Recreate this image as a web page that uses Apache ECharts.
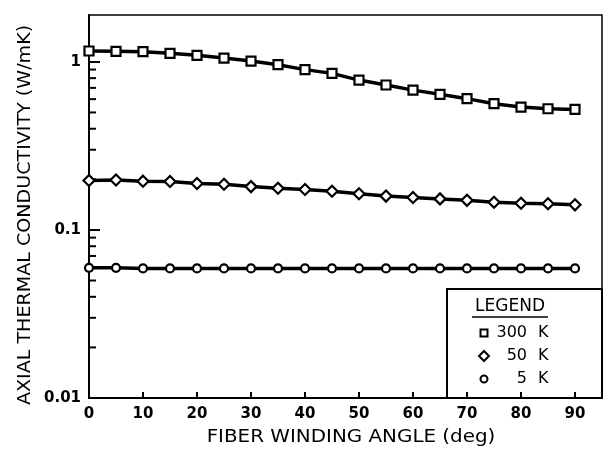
<!DOCTYPE html>
<html>
<head>
    <meta charset="utf-8">
    <script src="https://cdn.jsdelivr.net/npm/echarts@6/dist/echarts.min.js"></script>
    <style>
        html, body { margin: 0; padding: 0; background: #fff; }
        #main { width: 610px; height: 449px; }
    </style>
</head>
<body>
<div id="main"></div>
<script type="text/javascript">
    // fiber winding angle (deg)
    var angles = [0, 5, 10, 15, 20, 25, 30, 35, 40, 45, 50, 55, 60, 65, 70, 75, 80, 85, 90];
    // axial thermal conductivity (W/mK)
    var k300 = [1.16, 1.155, 1.15, 1.124, 1.093, 1.053, 1.011, 0.962, 0.899, 0.854,
                0.779, 0.728, 0.679, 0.641, 0.604, 0.564, 0.538, 0.526, 0.521];
    var k50 = [0.197, 0.198, 0.195, 0.194, 0.189, 0.187, 0.181, 0.177, 0.174, 0.170,
               0.164, 0.159, 0.156, 0.153, 0.150, 0.146, 0.144, 0.143, 0.141];
    var k5 = [0.0595, 0.0595, 0.059, 0.059, 0.059, 0.059, 0.059, 0.059, 0.059, 0.059,
              0.059, 0.059, 0.059, 0.059, 0.059, 0.059, 0.059, 0.059, 0.059];
    // minor ticks of the log axis
    var minorTicks = [0.02, 0.03, 0.04, 0.05, 0.06, 0.07, 0.08, 0.09,
                      0.2, 0.3, 0.4, 0.5, 0.6, 0.7, 0.8, 0.9];
    var legendNames = ['300', '50', '5'];

    function pairs(ys) {
        var out = [];
        for (var i = 0; i < angles.length; i++) out.push([angles[i], ys[i]]);
        return out;
    }

    function curve(name, ys, symbol, size) {
        return {
            name: name,
            type: 'line',
            data: pairs(ys),
            symbol: symbol,
            symbolSize: size,
            showAllSymbol: true,
            lineStyle: { color: '#000', width: 3.5 },
            itemStyle: { color: '#fff', borderColor: '#000', borderWidth: 2.2 },
            z: 3
        };
    }

    var myChart = echarts.init(document.getElementById('main'));
    var font = 'DejaVu Sans';

    option = {
        animation: false,
        backgroundColor: '#fff',
        grid: {
            left: 89, right: 8, top: 15, bottom: 51,
            show: true, borderColor: '#000', borderWidth: 1.5
        },
        xAxis: {
            type: 'value',
            min: 0, max: 95, interval: 10,
            axisLine: { lineStyle: { color: '#000', width: 2 } },
            axisTick: { inside: true, length: 6, lineStyle: { color: '#000', width: 2 } },
            axisLabel: {
                showMaxLabel: false, margin: 9,
                color: '#000', fontFamily: font, fontWeight: 'bold', fontSize: 15
            },
            splitLine: { show: false }
        },
        yAxis: {
            type: 'log', logBase: 10,
            min: 0.01, max: 1.9,
            axisLine: { lineStyle: { color: '#000', width: 2 } },
            axisTick: { inside: true, length: 11, lineStyle: { color: '#000', width: 2 } },
            axisLabel: {
                showMaxLabel: false, margin: 8,
                color: '#000', fontFamily: font, fontWeight: 'bold', fontSize: 15
            },
            splitLine: { show: false }
        },
        series: [
            curve('300 K', k300, 'rect', 9),
            curve('50 K', k50, 'diamond', 11),
            curve('5 K', k5, 'circle', 8),
            {
                type: 'custom',
                silent: true,
                clip: false,
                data: minorTicks.map(function (v) { return [0, v]; }),
                renderItem: function (params, api) {
                    var p = api.coord([0, api.value(1)]);
                    return {
                        type: 'line',
                        shape: { x1: p[0], y1: p[1], x2: p[0] + 7, y2: p[1] },
                        style: { stroke: '#000', lineWidth: 2 }
                    };
                }
            }
        ],
        graphic: [
            {
                type: 'text', x: 351, y: 438, scaleX: 1.17,
                style: {
                    text: 'FIBER WINDING ANGLE (deg)', fill: '#000',
                    font: '17px "DejaVu Sans"', align: 'center', verticalAlign: 'middle'
                }
            },
            {
                type: 'text', x: 25, y: 215, rotation: Math.PI / 2, scaleX: 1.06,
                style: {
                    text: 'AXIAL THERMAL CONDUCTIVITY (W/mK)', fill: '#000',
                    font: '18px "DejaVu Sans"', align: 'center', verticalAlign: 'middle'
                }
            },
            // legend box
            {
                type: 'group',
                children: [
                    { type: 'rect', shape: { x: 447, y: 289, width: 155, height: 109 },
                      style: { fill: null, stroke: '#000', lineWidth: 2 } },
                    { type: 'text', x: 510, y: 307,
                      style: { text: 'LEGEND', fill: '#000', font: '17px "DejaVu Sans"',
                               align: 'center', verticalAlign: 'middle' } },
                    { type: 'line', shape: { x1: 472, y1: 317, x2: 548, y2: 317 },
                      style: { stroke: '#000', lineWidth: 1.5 } },
                    { type: 'rect', shape: { x: 480.5, y: 329.5, width: 7, height: 7 },
                      style: { fill: '#fff', stroke: '#000', lineWidth: 2 } },
                    { type: 'polygon', shape: { points: [[484, 351], [489, 356], [484, 361], [479, 356]] },
                      style: { fill: '#fff', stroke: '#000', lineWidth: 2 } },
                    { type: 'circle', shape: { cx: 484, cy: 379, r: 3.5 },
                      style: { fill: '#fff', stroke: '#000', lineWidth: 2 } },
                    { type: 'text', x: 527, y: 333,
                      style: { text: legendNames[0], fill: '#000', font: '16px "DejaVu Sans"',
                               align: 'right', verticalAlign: 'middle' } },
                    { type: 'text', x: 527, y: 356,
                      style: { text: legendNames[1], fill: '#000', font: '16px "DejaVu Sans"',
                               align: 'right', verticalAlign: 'middle' } },
                    { type: 'text', x: 527, y: 379,
                      style: { text: legendNames[2], fill: '#000', font: '16px "DejaVu Sans"',
                               align: 'right', verticalAlign: 'middle' } },
                    { type: 'text', x: 538, y: 333,
                      style: { text: 'K', fill: '#000', font: '16px "DejaVu Sans"', verticalAlign: 'middle' } },
                    { type: 'text', x: 538, y: 356,
                      style: { text: 'K', fill: '#000', font: '16px "DejaVu Sans"', verticalAlign: 'middle' } },
                    { type: 'text', x: 538, y: 379,
                      style: { text: 'K', fill: '#000', font: '16px "DejaVu Sans"', verticalAlign: 'middle' } }
                ]
            }
        ]
    };
    myChart.setOption(option);
</script>
</body>
</html>
